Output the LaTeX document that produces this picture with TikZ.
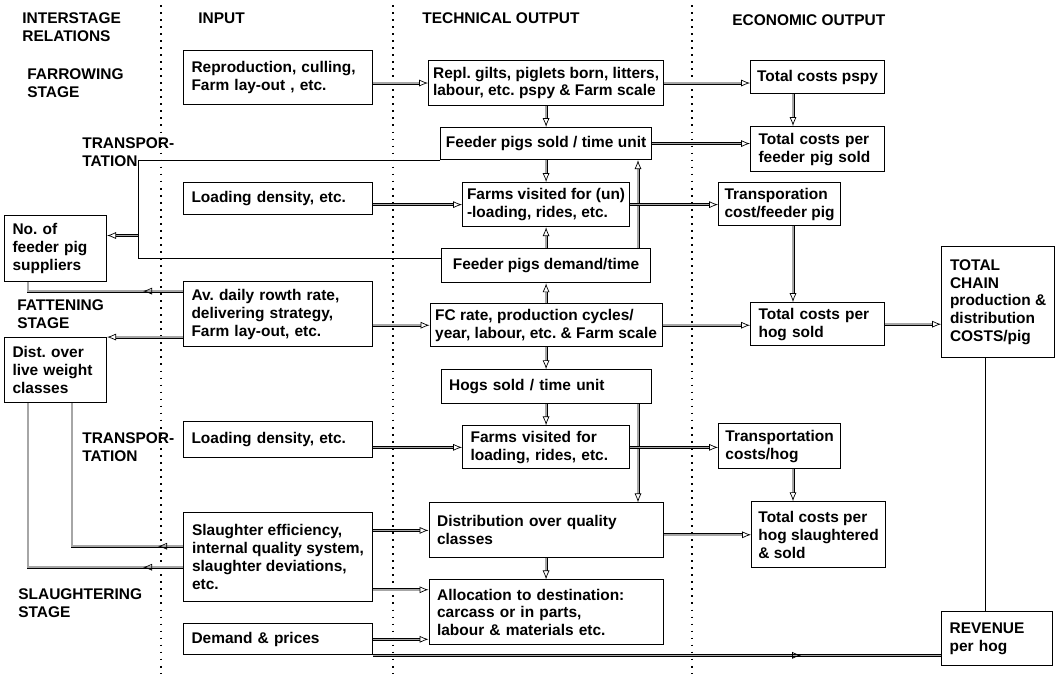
\documentclass[tikz,border=0pt]{standalone}
\usepackage{fontspec}
\setmainfont{Liberation Sans}
\usetikzlibrary{positioning, calc, arrows.meta, decorations.markings}
\frenchspacing

\begin{document}
\begin{tikzpicture}[font=\fontsize{8.8}{10.2}\selectfont\bfseries,
  box/.style={draw, line width=0.6pt, align=left, inner xsep=0.08cm, inner ysep=0.06cm},
  tbox/.style={box, inner xsep=0.16cm},
  lbl/.style={align=left, inner sep=0pt, anchor=west},
  sep/.style={line width=1pt, dash pattern=on 1pt off 3pt},
  Dbl/.style={draw=black, line width=0.4pt, double=black!35, double distance=0.9pt},
  Arr/.style={Dbl, -{Latex[open, length=1.8mm, width=1.4mm]}},
  MArr/.style={Dbl, postaction={decorate, decoration={markings,
      mark=at position #1 with {\pgfsetlinewidth{0.4pt}\pgfsetinnerlinewidth{0pt}\arrow{Latex[open, length=1.8mm, width=1.4mm]}}}}},
  Ln/.style={line width=0.5pt}]
  \useasboundingbox (0,0) rectangle (21.1,-13.48);
  \foreach \x in {3.22, 7.86, 13.84}
    \draw[sep] (\x,-0.1) -- (\x,-13.48);

  \node[lbl] (hInter) at (0.44,-0.55) {INTERSTAGE\\RELATIONS};
  \node[lbl] (hInput) at (3.96,-0.36) {INPUT};
  \node[lbl] (hTech) at (8.44,-0.36) {TECHNICAL OUTPUT};
  \node[lbl] (hEcon) at (14.64,-0.4) {ECONOMIC OUTPUT};
  \node[lbl] (sFarrow) at (0.54,-1.67) {FARROWING\\STAGE};
  \node[lbl] (sTrans1) at (1.64,-3.05) {TRANSPOR-\\TATION};
  \node[lbl] (sFatten) at (0.34,-6.29) {FATTENING\\STAGE};
  \node[lbl] (sTrans2) at (1.64,-8.94) {TRANSPOR-\\TATION};
  \node[lbl] (sSlaught) at (0.36,-12.06) {SLAUGHTERING\\STAGE};

  \node[tbox, anchor=north west, text width=1.72cm, minimum height=1.32cm] (nsup) at (0.08,-4.3) {No. of\\feeder pig\\suppliers};
  \node[tbox, below=1.1cm of nsup.south west, anchor=north west, text width=1.72cm, minimum height=1.3cm] (dist) {Dist. over\\live weight\\classes};

  \node[tbox, anchor=north west, text width=3.46cm, minimum height=1.08cm] (repro) at (3.66,-1.0) {Reproduction, culling,\\Farm lay-out , etc.};
  \node[tbox, below=1.54cm of repro, text width=3.46cm, minimum height=0.64cm] (load1) {Loading density, etc.};
  \node[tbox, below=1.32cm of load1, text width=3.46cm, minimum height=1.3cm] (adg) {Av. daily rowth rate,\\delivering strategy,\\Farm lay-out, etc.};
  \node[tbox, below=1.48cm of adg, text width=3.46cm, minimum height=0.72cm] (load2) {Loading density, etc.};
  \node[box, below=1.08cm of load2, minimum width=3.78cm, minimum height=1.78cm] (slaugh) {Slaughter efficiency,\\internal quality system,\\slaughter deviations,\\etc.};
  \node[tbox, below=0.42cm of slaugh, text width=3.46cm, minimum height=0.62cm] (demand) {Demand \& prices};

  \node[box, below right=0.2cm and 1.1cm of repro.north east, minimum width=4.7cm, minimum height=0.9cm] (repl) {Repl. gilts, piglets born, litters,\\labour, etc. pspy \& Farm scale};
  \node[box, below=0.42cm of repl, minimum width=4.22cm, minimum height=0.64cm] (fsold) {Feeder pigs sold / time unit};
  \node[box, below=0.44cm of fsold, minimum width=3.34cm, minimum height=0.88cm] (fvis1) {Farms visited for (un)\\-loading, rides, etc.};
  \node[box, below=0.42cm of fvis1, minimum width=4.18cm, minimum height=0.68cm] (fdem) {Feeder pigs demand/time};
  \node[box, below=0.4cm of fdem, minimum width=4.64cm, minimum height=0.86cm] (fcr) {FC rate, production cycles/\\year, labour, etc. \& Farm scale};
  \node[tbox, below=0.44cm of fcr, text width=3.88cm, minimum height=0.68cm] (hsold) {Hogs sold / time unit};
  \node[tbox, below=0.42cm of hsold, text width=3.02cm, minimum height=0.86cm] (fvis2) {Farms visited for\\loading, rides, etc.};
  \node[tbox, below=0.66cm of fvis2, text width=4.36cm, minimum height=1.1cm] (distq) {Distribution over quality\\classes};
  \node[tbox, below=0.42cm of distq, text width=4.36cm, minimum height=1.3cm] (alloc) {Allocation to destination:\\carcass or in parts,\\labour \& materials etc.};

  \node[box, below right=0.2cm and 7.54cm of repro.north east, minimum width=2.68cm, minimum height=0.66cm] (tcpspy) {Total costs pspy};
  \node[tbox, below=0.64cm of tcpspy.south west, anchor=north west, text width=2.36cm, minimum height=0.9cm] (tcfp) {Total costs per\\feeder pig sold};
  \node[box, below=0.2cm of tcfp.south west, anchor=north west, xshift=-0.64cm, minimum width=2.44cm, minimum height=0.86cm] (trfp) {Transporation\\cost/feeder pig};
  \node[tbox, below=1.52cm of trfp.south west, anchor=north west, xshift=0.64cm, text width=2.36cm, minimum height=0.86cm] (tchog) {Total costs per\\hog sold};
  \node[box, below=1.54cm of tchog.south west, anchor=north west, xshift=-0.64cm, minimum width=2.44cm, minimum height=0.9cm] (trhog) {Transportation\\costs/hog};
  \node[box, below=0.64cm of trhog.south west, anchor=north west, xshift=0.66cm, minimum width=2.68cm, minimum height=1.32cm] (tcsl) {Total costs per\\hog slaughtered\\\& sold};
  \node[box, above right=1.12cm and 1.12cm of tchog.north east, anchor=north west, minimum width=2.26cm, minimum height=2.22cm] (tchain) {TOTAL\\CHAIN\\production \&\\distribution\\COSTS/pig};
  \node[tbox, below=5.06cm of tchain.south west, anchor=north west, text width=1.9cm, minimum height=1.08cm] (rev) {REVENUE\\per hog};

  \coordinate (tbend) at (2.76,0);
  \coordinate (tx) at (12.76,0);
  \coordinate (ex) at (15.86,0);
  \coordinate (rx) at (19.7,0);

  \draw[Arr] (repro.east |- repl.west) -- (repl.west);
  \draw[Arr] (repl.east) -- (repl.east -| tcpspy.west);
  \draw[Arr] (repl.south) -- (fsold.north);
  \draw[Arr] (fsold.south) -- (fvis1.north);
  \draw[Arr] (fdem.north) -- (fvis1.south);
  \draw[Arr] (fcr.north) -- (fdem.south);
  \draw[Arr] (fcr.south) -- (hsold.north);
  \draw[Arr] (hsold.south) -- (fvis2.north);
  \draw[Arr] (distq.south) -- (alloc.north);
  \draw[Arr] (fdem.north -| tx) -- (fsold.south -| tx);
  \draw[Arr] (hsold.south -| tx) -- (distq.north -| tx);
  \draw[Arr] (fsold.east) -- (fsold.east -| tcfp.west);
  \draw[Arr] (load1.east |- fvis1.west) -- (fvis1.west);
  \draw[Arr] (fvis1.east) -- (fvis1.east -| trfp.west);
  \draw[Arr] (adg.east |- fcr.west) -- (fcr.west);
  \draw[Arr] (fcr.east) -- (fcr.east -| tchog.west);
  \draw[Arr] (tchog.east) -- (tchog.east -| tchain.west);
  \draw[Arr] (load2.east |- fvis2.west) -- (fvis2.west);
  \draw[Arr] (fvis2.east) -- (fvis2.east -| trhog.west);
  \draw[Arr] (slaugh.east |- distq.west) -- (distq.west);
  \draw[Arr] (distq.east |- tcsl.west) -- (tcsl.west);
  \draw[Arr] ([yshift=-0.65cm]slaugh.east) -- ([yshift=-0.65cm]slaugh.east -| alloc.west);
  \draw[Arr] (demand.east) -- (demand.east -| alloc.west);
  \draw[MArr=8.56cm] (demand.south east) -- (demand.south east -| rev.west);
  \draw[Arr] (tcpspy.south -| ex) -- (tcfp.north -| ex);
  \draw[Arr] (trfp.south -| ex) -- (tchog.north -| ex);
  \draw[Arr] (trhog.south -| ex) -- (tcsl.north -| ex);
  \draw[Ln] (tchain.south -| rx) -- (rev.north -| rx);
  \draw[Ln] (fsold.south west) -- (fsold.south west -| tbend) |- ([yshift=0.14cm]fdem.west);
  \draw[Arr] ([yshift=0.26cm]nsup.east -| tbend) -- ([yshift=0.26cm]nsup.east);
  \draw[MArr=0.8cm] ([yshift=-0.2cm]adg.north west) -| ([xshift=0.48cm]nsup.south west);
  \draw[Arr] (adg.west |- dist.north east) -- (dist.north east);
  \draw[MArr=0.5cm] ([yshift=-0.68cm]slaugh.north west) -| ([xshift=1.36cm]dist.south west);
  \draw[MArr=0.8cm] ([yshift=-1.1cm]slaugh.north west) -| ([xshift=0.48cm]dist.south west);
\end{tikzpicture}
\end{document}
